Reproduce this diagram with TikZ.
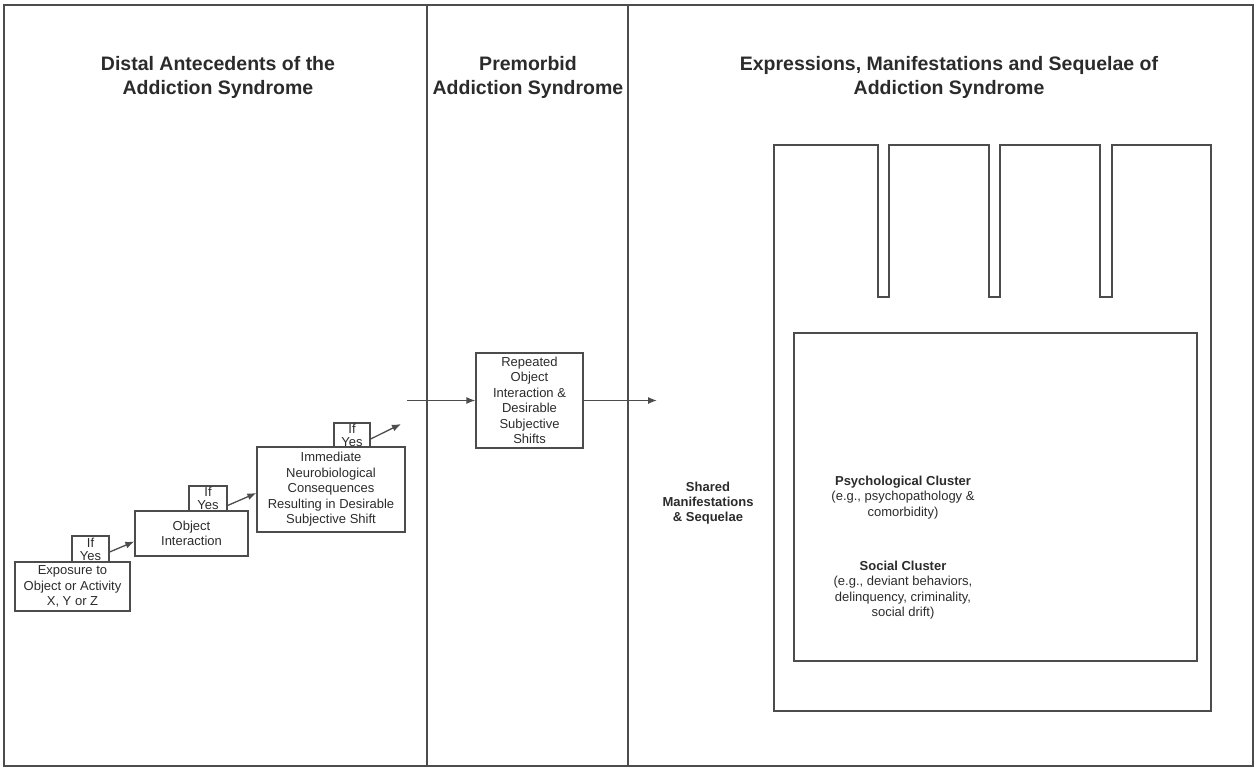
\documentclass[tikz,border=0pt]{standalone}
\usepackage{fontspec}
\setmainfont{Liberation Sans}
\usetikzlibrary{arrows.meta}
\definecolor{ln}{gray}{0.3}
\definecolor{tx}{gray}{0.17}
\begin{document}
\begin{tikzpicture}[x=1pt,y=-1pt,
  box/.style={draw=ln, line width=1.3pt, inner sep=0pt, align=center, text=tx,
    font=\fontsize{13}{15.5}\selectfont},
  ifbox/.style={box, fill=white, font=\fontsize{13}{13}\selectfont},
  hdr/.style={align=center, text=tx, font=\fontsize{19.5}{24}\selectfont\bfseries},
  lbl/.style={align=center, text=tx, font=\fontsize{13}{15.5}\selectfont},
  arr/.style={draw=ln, line width=1.3pt, -{Latex[length=9pt,width=7pt]}},
  frame/.style={draw=ln, line width=1.3pt}]
\useasboundingbox (0,0) rectangle (1255,767);
% frame and dividers
\draw[frame, line width=1.8pt] (4,5) rectangle (1253,766);
\draw[frame] (427,5) -- (427,766);
\draw[frame] (628,5) -- (628,766);
% headers
\node[hdr] (h1) at (218,77) {Distal Antecedents of the\\Addiction Syndrome};
\node[hdr] (h2) at (528,77) {Premorbid\\Addiction Syndrome};
\node[hdr] (h3) at (949,77) {Expressions, Manifestations and Sequelae of\\Addiction Syndrome};
% left column boxes
\node[box, minimum width=115pt, minimum height=49pt] (expo) at (72.5,586.5)
  {Exposure to\\Object or Activity\\X, Y or Z};
\node[ifbox, minimum width=37pt, minimum height=26pt] (iy1) at (90.5,549) {If\\Yes};
\node[box, minimum width=113pt, minimum height=45pt] (obj) at (191.5,533.5)
  {Object\\Interaction};
\node[ifbox, minimum width=38pt, minimum height=25pt] (iy2) at (208,498.5) {If\\Yes};
\node[box, minimum width=148pt, minimum height=85pt] (imm) at (331,489.5)
  {Immediate\\Neurobiological\\Consequences\\Resulting in Desirable\\Subjective Shift};
\node[ifbox, minimum width=36pt, minimum height=24pt] (iy3) at (352,435) {If\\Yes};
\coordinate (e3) at (401,424);
\draw[arr] ([yshift=-3pt]iy1.east) -- ([yshift=-8pt]obj.west);
\draw[arr] ([yshift=-7pt]iy2.east) -- ([yshift=-3.5pt]imm.west);
\draw[arr] ([yshift=-4pt]iy3.east) -- (e3);
% middle column
\node[box, minimum width=107pt, minimum height=95pt] (rep) at (529.5,400.5)
  {Repeated\\Object\\Interaction \&\\Desirable\\Subjective\\Shifts};
\coordinate (in) at (407,400.5);
\coordinate (out) at (657,400.5);
\draw[arr] (in) -- (rep.west);
\draw[arr] (rep.east) -- (out);
% right column
\node[lbl, font=\fontsize{13}{15}\selectfont\bfseries] (shared) at (708,503)
  {Shared\\Manifestations\\\& Sequelae};
\draw[frame] (774,711) -- (774,145) -- (878,145) -- (878,297) -- (889,297) -- (889,145)
  -- (989,145) -- (989,297) -- (1000,297) -- (1000,145)
  -- (1100,145) -- (1100,297) -- (1112,297) -- (1112,145)
  -- (1211,145) -- (1211,711) -- cycle;
\draw[frame] (794,333) rectangle (1197,661);
\node[lbl] (psy) at (903,497.5)
  {\textbf{Psychological Cluster}\\(e.g., psychopathology \&\\comorbidity)};
\node[lbl] (soc) at (903,590)
  {\textbf{Social Cluster}\\(e.g., deviant behaviors,\\delinquency, criminality,\\social drift)};
\end{tikzpicture}
\end{document}
